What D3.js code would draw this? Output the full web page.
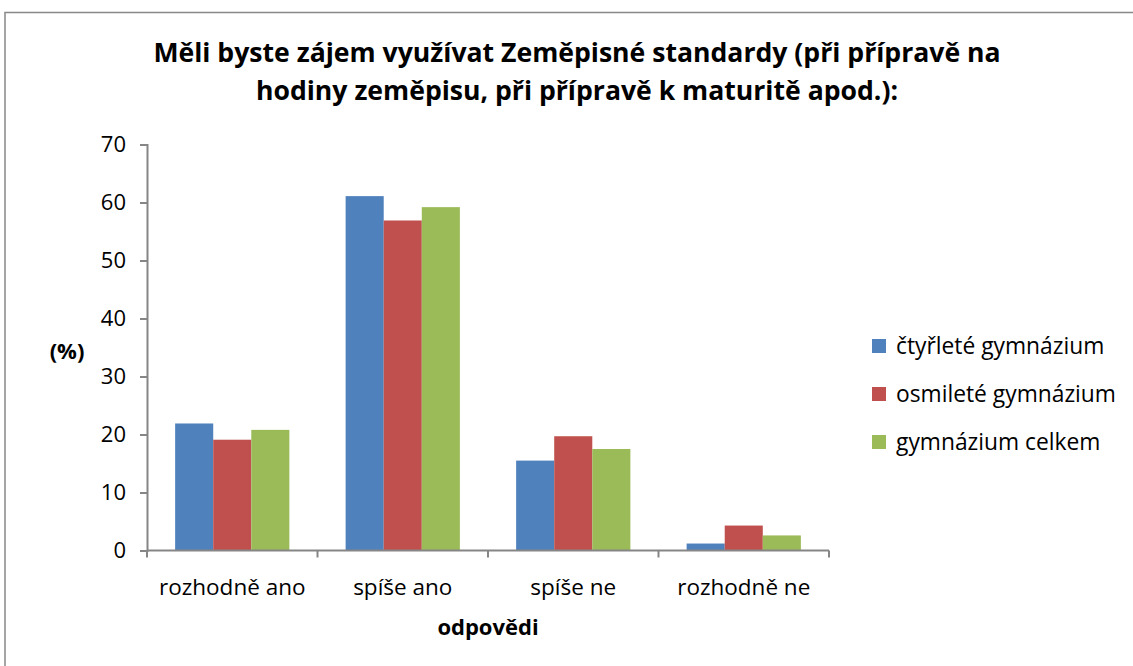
<!DOCTYPE html>
<html>
<head>
<meta charset="utf-8">
<script src="https://cdn.jsdelivr.net/npm/d3@7"></script>
<style>
  body { margin: 0; background: #fff; }
  svg text { font-family: "Open Sans", Lato, sans-serif; fill: #000; }
</style>
</head>
<body>
<div id="chart"></div>
<script>
var width = 1133;
var height = 666;

// data
var categories = ["rozhodně ano", "spíše ano", "spíše ne", "rozhodně ne"];
var seriesNames = ["čtyřleté gymnázium", "osmileté gymnázium", "gymnázium celkem"];
var ctyrlete = [21.9, 61.1, 15.5, 1.2];
var osmilete = [19.1, 56.9, 19.7, 4.3];
var celkem = [20.8, 59.2, 17.5, 2.6];
var yTicks = [0, 10, 20, 30, 40, 50, 60, 70];
var colors = ["#4F81BD", "#C0504D", "#9BBB59"];

var series = [ctyrlete, osmilete, celkem];

var svg = d3.select("#chart").append("svg")
    .attr("width", width)
    .attr("height", height);

// outer frame
svg.append("rect")
    .attr("x", 5)
    .attr("y", 12.5)
    .attr("width", width + 10)
    .attr("height", height)
    .attr("fill", "none")
    .attr("stroke", "#888")
    .attr("stroke-width", 1.5);

// title
var title = svg.append("text")
    .attr("text-anchor", "middle")
    .attr("font-size", "26.6px")
    .attr("font-weight", "bold");
title.append("tspan").attr("x", 577).attr("y", 62)
    .text("Měli byste zájem využívat Zeměpisné standardy (při přípravě na");
title.append("tspan").attr("x", 577).attr("y", 100)
    .text("hodiny zeměpisu, při přípravě k  maturitě apod.):");

var x0 = 147, x1 = 829, yBottom = 550.5, yTop = 144.5;

var x = d3.scaleBand()
    .domain(categories)
    .range([x0, x1])
    .paddingInner(0.33)
    .paddingOuter(0.165);

var xSub = d3.scaleBand()
    .domain(d3.range(series.length))
    .range([0, x.bandwidth()]);

var y = d3.scaleLinear()
    .domain([0, 70])
    .range([yBottom, yTop]);

// bars
series.forEach(function(vals, s) {
    svg.append("g").selectAll("rect")
        .data(vals)
        .enter()
        .append("rect")
        .attr("x", function(d, i) { return x(categories[i]) + xSub(s); })
        .attr("y", function(d) { return y(d); })
        .attr("width", xSub.bandwidth())
        .attr("height", function(d) { return yBottom - y(d); })
        .attr("fill", colors[s]);
});

// y axis
var yAxis = svg.append("g")
    .attr("transform", "translate(" + x0 + ",0)")
    .call(d3.axisLeft(y).tickValues(yTicks).tickSize(7).tickPadding(14));
yAxis.selectAll("text").attr("font-size", "22px").style("font-family", "'Open Sans', sans-serif");

// x axis with ticks on the band edges
var xAxis = svg.append("g")
    .attr("transform", "translate(0," + yBottom + ")");
xAxis.append("line")
    .attr("x1", x0).attr("x2", x1)
    .attr("stroke", "#868686").attr("stroke-width", 2);
var step = x.step();
xAxis.selectAll(".xt")
    .data(d3.range(categories.length + 1))
    .enter()
    .append("line")
    .attr("class", "xt")
    .attr("x1", function(i) { return x0 + i * step; })
    .attr("x2", function(i) { return x0 + i * step; })
    .attr("y1", 0).attr("y2", 7)
    .attr("stroke", "#868686").attr("stroke-width", 2);
xAxis.selectAll(".xl")
    .data(categories)
    .enter()
    .append("text")
    .attr("class", "xl")
    .attr("x", function(d) { return x(d) + x.bandwidth() / 2; })
    .attr("y", 44)
    .attr("text-anchor", "middle")
    .attr("font-size", "22.5px")
    .text(function(d) { return d; });

yAxis.select(".domain").attr("stroke", "#868686").attr("stroke-width", 2);
yAxis.selectAll(".tick line").attr("stroke", "#868686").attr("stroke-width", 2);

// axis titles
svg.append("text")
    .attr("x", 67)
    .attr("y", 359)
    .attr("text-anchor", "middle")
    .attr("font-size", "22px")
    .attr("font-weight", "bold")
    .text("(%)");

svg.append("text")
    .attr("x", 488)
    .attr("y", 635)
    .attr("text-anchor", "middle")
    .attr("font-size", "22px")
    .attr("font-weight", "bold")
    .text("odpovědi");

// legend
var legend = svg.append("g");
seriesNames.forEach(function(name, i) {
    legend.append("rect")
        .attr("x", 872)
        .attr("y", 339 + i * 48)
        .attr("width", 14)
        .attr("height", 14)
        .attr("fill", colors[i]);
    legend.append("text")
        .attr("x", 896)
        .attr("y", 354 + i * 48)
        .attr("font-size", "22.8px")
        .text(name);
});
</script>
</body>
</html>
